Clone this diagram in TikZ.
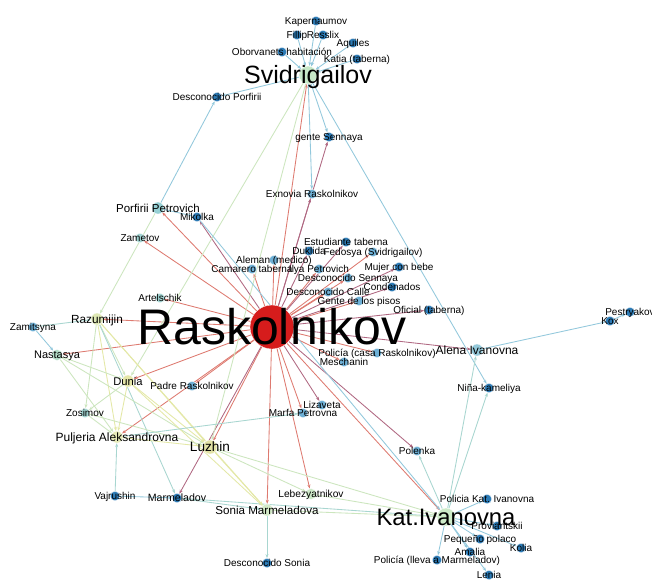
\documentclass[tikz,border=0pt]{standalone}
\usepackage{fontspec}
\setmainfont{Liberation Sans}
\usetikzlibrary{arrows.meta,backgrounds}
\definecolor{dkblue}{RGB}{44,123,182}
\definecolor{ltblue}{RGB}{110,176,214}
\definecolor{rasred}{RGB}{214,28,28}
\definecolor{svidc}{RGB}{198,232,200}
\definecolor{katc}{RGB}{205,235,200}
\definecolor{porfc}{RGB}{150,208,212}
\definecolor{razuc}{RGB}{222,232,180}
\definecolor{nasc}{RGB}{180,222,200}
\definecolor{dunc}{RGB}{228,230,168}
\definecolor{pulc}{RGB}{230,234,184}
\definecolor{luzc}{RGB}{226,226,166}
\definecolor{sonc}{RGB}{212,234,200}
\definecolor{lebc}{RGB}{205,232,200}
\definecolor{alenac}{RGB}{148,201,218}
\definecolor{tealc}{RGB}{160,210,208}
\definecolor{eRc}{RGB}{222,122,112}
\definecolor{ePc}{RGB}{176,104,130}
\definecolor{eBc}{RGB}{146,200,220}
\definecolor{eTc}{RGB}{168,214,208}
\definecolor{eGc}{RGB}{204,230,190}
\definecolor{eYc}{RGB}{228,232,166}
\tikzset{
 nd/.style={circle, inner sep=0pt, draw=white, line width=0.3pt},
 dk/.style={nd, fill=dkblue, minimum size=9.5pt},
 lt/.style={nd, fill=ltblue, minimum size=9.5pt},
 tl/.style={nd, fill=tealc, minimum size=9.5pt},
 ed/.style={line width=0.85pt, -{Stealth[length=4pt,width=3pt]}},
 eR/.style={ed, draw=eRc},
 eP/.style={ed, draw=ePc},
 eB/.style={ed, draw=eBc},
 eT/.style={ed, draw=eTc},
 eG/.style={ed, draw=eGc},
 eY/.style={ed, draw=eYc},
}
\newcommand\glab[3]{\node (#1l) [inner sep=0pt, anchor=base, font=\fontsize{#2}{#2}\selectfont] at ([yshift=-#2*0.358pt]#1) {#3};}
\begin{document}
\begin{tikzpicture}[x=1pt,y=-1pt]
\useasboundingbox (0,0) rectangle (652,579);
% main nodes
\node[nd, fill=rasred, minimum size=44pt] (ras) at (272,327) {};
\node[nd, fill=svidc, minimum size=18pt] (svid) at (308,75) {};
\node[nd, fill=katc, minimum size=18pt] (kat) at (446,517) {};
\node[nd, fill=porfc, minimum size=12pt] (porf) at (158,208) {};
\node[nd, fill=razuc, minimum size=12pt] (razu) at (97,319) {};
\node[nd, fill=nasc, minimum size=11pt] (nas) at (57,355) {};
\node[nd, fill=dunc, minimum size=12pt] (dun) at (128,381) {};
\node[nd, fill=pulc, minimum size=12pt] (pul) at (117,437) {};
\node[nd, fill=luzc, minimum size=14pt] (luz) at (210,447) {};
\node[nd, fill=sonc, minimum size=12pt] (son) at (267,510) {};
\node[nd, fill=lebc, minimum size=11pt] (leb) at (311,494) {};
\node[nd, fill=alenac, minimum size=12pt] (alena) at (477,350) {};
% dark blue
\node[dk] (kap) at (316,21) {};
\node[dk] (fil) at (297,35) {};
\node[dk] (res) at (323,35) {};
\node[dk] (aqu) at (353,43) {};
\node[dk] (obo) at (282,52) {};
\node[dk] (katia) at (357,59) {};
\node[dk] (dpor) at (217,97) {};
\node[dk] (gsen) at (329,137) {};
\node[dk] (mik) at (197,217) {};
\node[dk] (est) at (346,242) {};
\node[dk] (duk) at (309,251) {};
\node[dk] (muj) at (399,267) {};
\node[dk] (con) at (392,287) {};
\node[dk] (ofi) at (429,310) {};
\node[dk] (kox) at (610,321) {};
\node[dk] (pes) at (630,312) {};
\node[dk] (nin) at (489,388) {};
\node[dk] (vaj) at (115,496) {};
\node[dk] (marm) at (177,498) {};
\node[dk] (dson) at (267,563) {};
\node[dk] (pkat) at (487,499) {};
\node[dk] (prov) at (497,526) {};
\node[dk] (peq) at (480,539) {};
\node[dk] (kol) at (521,548) {};
\node[dk] (ama) at (470,552) {};
\node[dk] (plle) at (437,560) {};
\node[dk] (len) at (489,575) {};
% light blue
\node[lt] (zmts) at (33,327) {};
\node[lt] (exn) at (312,194) {};
\node[lt] (ale) at (274,260) {};
\node[lt] (cam) at (252,269) {};
\node[lt] (ily) at (319,269) {};
\node[lt] (fed) at (373,252) {};
\node[lt] (dsen) at (348,278) {};
\node[lt] (dcal) at (328,292) {};
\node[lt] (gpis) at (359,301) {};
\node[lt] (pcas) at (377,353) {};
\node[lt] (mes) at (344,362) {};
\node[lt] (liz) at (322,405) {};
\node[lt] (marf) at (303,413) {};
\node[lt] (padre) at (192,386) {};
\node[lt] (pol) at (417,451) {};
\node[tl] (art) at (160,298) {};
\node[tl] (zmt) at (140,238) {};
\node[tl] (zos) at (85,413) {};

\begin{pgfonlayer}{background}
\fill[white] (0,0) rectangle (652,579);
% Raskolnikov edges
\foreach \t in {svid,porf,zmt,art,razu,nas,dun,pul,padre,luz,son,leb,marf,kat,pcas,mes,ale,cam,ily,dcal,dsen,gpis,fed}
  \draw[eR] (ras) -- (\t);
\foreach \t in {gsen,exn,mik,marm,liz,pol,est,duk,muj,con,ofi,alena}
  \draw[eP] (ras) -- (\t);
% Svidrigailov
\foreach \s in {kap,fil,res,aqu,obo,katia}
  \draw[eB] (\s) -- (svid);
\foreach \t in {dpor,gsen,exn,nin}
  \draw[eB] (svid) -- (\t);
\draw[eG] (svid) -- (dun);
\draw[eG] (svid) -- (luz);
\draw[eB] (porf) -- (dpor);
\draw[eB] (porf) -- (mik);
\draw[eB] (mik) -- (kat);
\draw[eG] (porf) -- (razu);
\draw[eT] (zmts) -- (razu);
\draw[eB] (zmts) -- (nas);
% left cluster
\draw[eG] (razu) -- (dun);
\draw[eG] (razu) -- (zos);
\draw[eY] (razu) -- (pul);
\draw[eY] (razu) -- (luz);
\draw[eT] (razu) -- (marm);
\draw[eY] (razu) -- (son);
\draw[eG] (nas) -- (dun);
\draw[eG] (nas) -- (pul);
\draw[eG] (nas) -- (luz);
\draw[eG] (dun) -- (zos);
\draw[eY] (dun) -- (pul);
\draw[eY] (dun) -- (luz);
\draw[eY] (dun) -- (son);
\draw[eG] (zos) -- (pul);
\draw[eG] (zos) -- (luz);
\draw[eY] (pul) -- (luz);
\draw[eT] (pul) -- (marf);
\draw[eT] (vaj) -- (pul);
\draw[eB] (vaj) -- (marm);
\draw[eT] (marm) -- (son);
\draw[eT] (marm) -- (kat);
\draw[eY] (luz) -- (son);
\draw[eG] (luz) -- (leb);
\draw[eG] (luz) -- (kat);
\draw[eG] (leb) -- (kat);
\draw[eG] (son) -- (kat);
\draw[eT] (son) -- (dson);
% Kat.Ivanovna
\foreach \t in {pol,alena,nin}
  \draw[eT] (kat) -- (\t);
\foreach \t in {pkat,prov,peq,kol,ama,plle,len}
  \draw[eB] (kat) -- (\t);
\draw[eB] (alena) -- (kox);
\draw[eB] (kox) -- (pes);
\end{pgfonlayer}

% labels
\glab{ras}{50}{Raskolnikov}
\glab{svid}{25}{Svidrigailov}
\glab{kat}{23.8}{Kat.Ivanovna}
\glab{porf}{11.5}{Porfirii Petrovich}
\glab{razu}{11.8}{Razumijin}
\glab{nas}{11}{Nastasya}
\glab{dun}{11.2}{Dunia}
\glab{pul}{12}{Puljeria Aleksandrovna}
\glab{luz}{13.6}{Luzhin}
\glab{son}{11.6}{Sonia Marmeladova}
\glab{leb}{10.2}{Lebezyatnikov}
\glab{alena}{12}{Alena Ivanovna}
\glab{kap}{10}{Kapernaumov}
\glab{fil}{10}{Fillip}
\glab{res}{10}{Resslix}
\glab{aqu}{10}{Aquiles}
\glab{obo}{10}{Oborvanets habitación}
\glab{katia}{10}{Katia (taberna)}
\glab{dpor}{10}{Desconocido Porfirii}
\glab{gsen}{10}{gente Sennaya}
\glab{mik}{10}{Mikolka}
\glab{est}{10}{Estudiante taberna}
\glab{duk}{10}{Duklida}
\glab{muj}{10}{Mujer con bebe}
\glab{con}{10}{Condenados}
\glab{ofi}{10}{Oficial (taberna)}
\glab{kox}{10}{Kox}
\glab{pes}{10}{Pestryakov}
\glab{nin}{10}{Niña-kameliya}
\glab{vaj}{10}{Vajrushin}
\glab{marm}{10.6}{Marmeladov}
\glab{dson}{10}{Desconocido Sonia}
\glab{pkat}{10}{Policia Kat. Ivanovna}
\glab{prov}{10}{Proviantskii}
\glab{peq}{10}{Pequeño polaco}
\glab{kol}{10}{Kolia}
\glab{ama}{10}{Amalia}
\glab{plle}{10}{Policía (lleva a Marmeladov)}
\glab{len}{10}{Lenia}
\glab{zmts}{10}{Zamitsyna}
\glab{exn}{10}{Exnovia Raskolnikov}
\glab{ale}{10}{Aleman (medico)}
\glab{ily}{10}{Ilya Petrovich}
\glab{cam}{10}{Camarero taberna}
\glab{fed}{10}{Fedosya (Svidrigailov)}
\glab{dsen}{10}{Desconocido Sennaya}
\glab{dcal}{10}{Desconocido Calle}
\glab{gpis}{10}{Gente de los pisos}
\glab{pcas}{10}{Policía (casa Raskolnikov)}
\glab{mes}{10}{Meschanin}
\glab{liz}{10}{Lizaveta}
\glab{marf}{10}{Marfa Petrovna}
\glab{padre}{10}{Padre Raskolnikov}
\glab{pol}{10}{Polenka}
\glab{art}{10}{Artelschik}
\glab{zmt}{10}{Zametov}
\glab{zos}{10}{Zosimov}
\end{tikzpicture}
\end{document}
